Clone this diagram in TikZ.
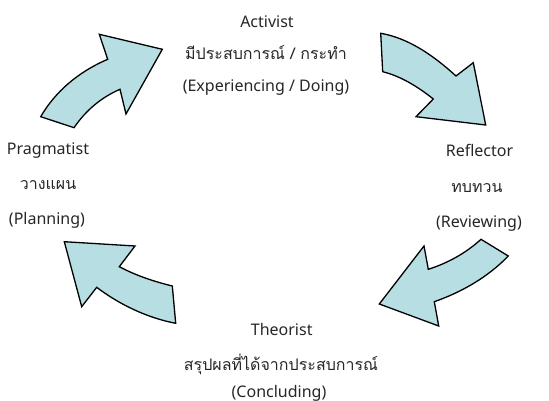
\documentclass[tikz,border=0pt]{standalone}
\usepackage{fontspec}
\setmainfont{Noto Sans}
\newfontfamily\thaifont[Script=Thai]{Loma}
\definecolor{arrowfill}{RGB}{183,222,226}
\tikzset{
  bigarrow/.style={draw=black, line width=1.3pt, fill=arrowfill, line join=miter},
  lbl/.style={anchor=base, inner sep=0pt, font=\fontsize{16}{19}\selectfont, text=black!85},
}
\begin{document}
\begin{tikzpicture}[x=1pt, y=-1pt]
\useasboundingbox (0,0) rectangle (549,401);

% Pragmatist -> Activist
\draw[bigarrow] (40.7,116.7) .. controls (55,92) and (78,72) .. (107.7,59.3)
  -- (99.3,34.3) -- (162.3,49.3) -- (126,114) -- (120,89.3)
  .. controls (102,97) and (86,110) .. (74,127.7) -- cycle;

% Activist -> Reflector
\draw[bigarrow] (380.7,33.3) .. controls (408,38) and (433,55) .. (456,76)
  -- (473.3,62.7) -- (485.7,125) -- (416,116.7) -- (433.3,99)
  .. controls (417,86) and (400,76) .. (382.7,71.7) -- cycle;

% Reflector -> Theorist
\draw[bigarrow] (481,239.3) -- (508.3,256)
  .. controls (488,277) and (462,292) .. (434.3,301.7)
  -- (438.7,326) -- (379.3,304) -- (424,246) -- (428.3,269.3)
  .. controls (448,263) and (466,253) .. cycle;

% Theorist -> Pragmatist
\draw[bigarrow] (175.7,323.3) -- (172.3,286)
  .. controls (152,281) and (135,275) .. (119.3,266.7)
  -- (135,246) -- (64.3,241.7) -- (81.7,306.7) -- (96.7,287.3)
  .. controls (120,305) and (148,318) .. cycle;

% Activist
\node[lbl] (act1) at (267,28) {Activist};
\node[lbl] (act2) at (266,60) {\thaifont มีประสบการณ์ / กระทำ};
\node[lbl] (act3) at (266,91.5) {(Experiencing / Doing)};

% Reflector
\node[lbl] (ref1) at (479.5,157) {Reflector};
\node[lbl] (ref2) at (477,192.5) {\thaifont ทบทวน};
\node[lbl] (ref3) at (479,227) {(Reviewing)};

% Theorist
\node[lbl] (the1) at (281.7,335) {Theorist};
\node[lbl] (the2) at (281,370.5) {\thaifont สรุปผลที่ได้จากประสบการณ์};
\node[lbl] (the3) at (279,397) {(Concluding)};

% Pragmatist
\node[lbl] (pra1) at (48,155) {Pragmatist};
\node[lbl] (pra2) at (48,189.5) {\thaifont วางแผน};
\node[lbl] (pra3) at (47,224) {(Planning)};
\end{tikzpicture}
\end{document}
